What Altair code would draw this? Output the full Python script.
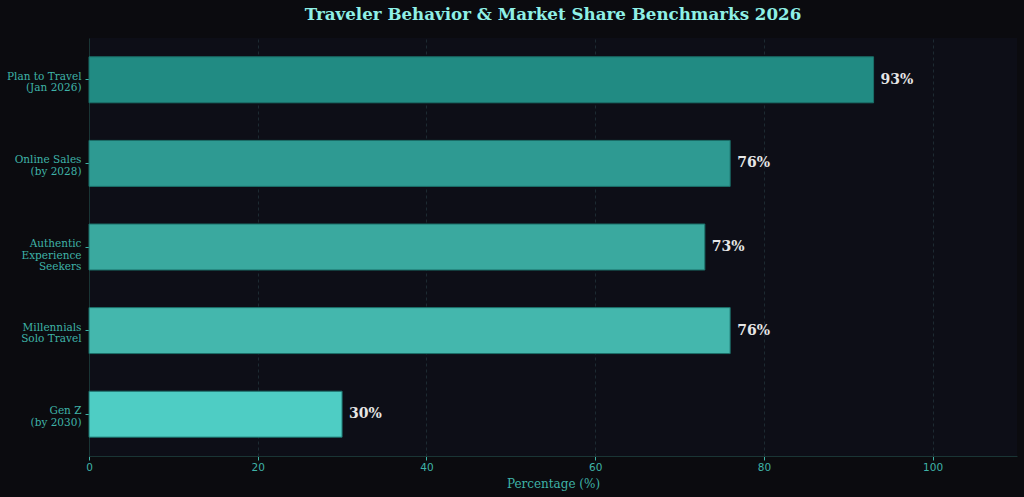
import altair as alt
import pandas as pd

categories = [
    "Plan to Travel\n(Jan 2026)",
    "Online Sales\n(by 2028)",
    "Authentic\nExperience\nSeekers",
    "Millennials\nSolo Travel",
    "Gen Z\n(by 2030)",
]
values = [93, 76, 73, 76, 30]
colors = ["#218b83", "#2e9a92", "#3aa99f", "#44b7ad", "#4ecdc4"]
labels = [f"{v}%" for v in values]

df = pd.DataFrame({"cat": categories, "value": values, "color": colors, "label": labels})

serif = "DejaVu Serif"
teal = "#3fb3a8"

y_enc = alt.Y(
    "cat:N",
    sort=None,
    scale=alt.Scale(paddingInner=0.45, paddingOuter=0.225),
    axis=alt.Axis(
        title=None,
        labelExpr="split(datum.label, '\\n')",
        labelFont=serif,
        labelFontSize=10.5,
        labelColor=teal,
        labelPadding=4,
        labelOffset=-3,
        tickColor=teal,
        tickSize=4,
        domainColor="#1a3535",
        grid=False,
        labelLineHeight=11.5,
    ),
)

x_enc = alt.X(
    "value:Q",
    scale=alt.Scale(domain=[0, 110], nice=False),
    axis=alt.Axis(
        title="Percentage (%)",
        titleFont=serif,
        titleFontSize=12,
        titleFontWeight="normal",
        titleColor=teal,
        titlePadding=6,
        values=[0, 20, 40, 60, 80, 100],
        labelFont="DejaVu Sans",
        labelFontSize=10.5,
        labelColor=teal,
        labelFlush=False,
        tickColor=teal,
        tickSize=4,
        domainColor="#1a3535",
        grid=True,
        gridColor="#22323a",
        gridDash=[3, 3],
        gridWidth=0.8,
    ),
)

bars = alt.Chart(df).mark_bar(stroke="#1b6f69", strokeWidth=1).encode(
    y=y_enc,
    x=x_enc,
    color=alt.Color("color:N", scale=None),
)

text = alt.Chart(df).mark_text(
    align="left", baseline="middle", dx=7, font=serif, fontSize=14,
    fontWeight="bold", color="#e6e6e6",
).encode(
    y=alt.Y("cat:N", sort=None),
    x=alt.X("value:Q"),
    text="label:N",
)

chart = (bars + text).properties(
    width=928,
    height=418,
    background="#0b0b0f",
    padding={"left": 89, "top": 38, "right": 7, "bottom": 41},
    autosize=alt.AutoSizeParams(type="none"),
    title=alt.TitleParams(
        "Traveler Behavior & Market Share Benchmarks 2026",
        font=serif,
        fontSize=16.7,
        fontWeight="bold",
        color="#8ff0e6",
        anchor="middle",
        offset=14,
    ),
).configure_view(fill="#0d0e17", stroke=None)

chart.save("out.html", embed_options={"renderer": "svg", "actions": False})
